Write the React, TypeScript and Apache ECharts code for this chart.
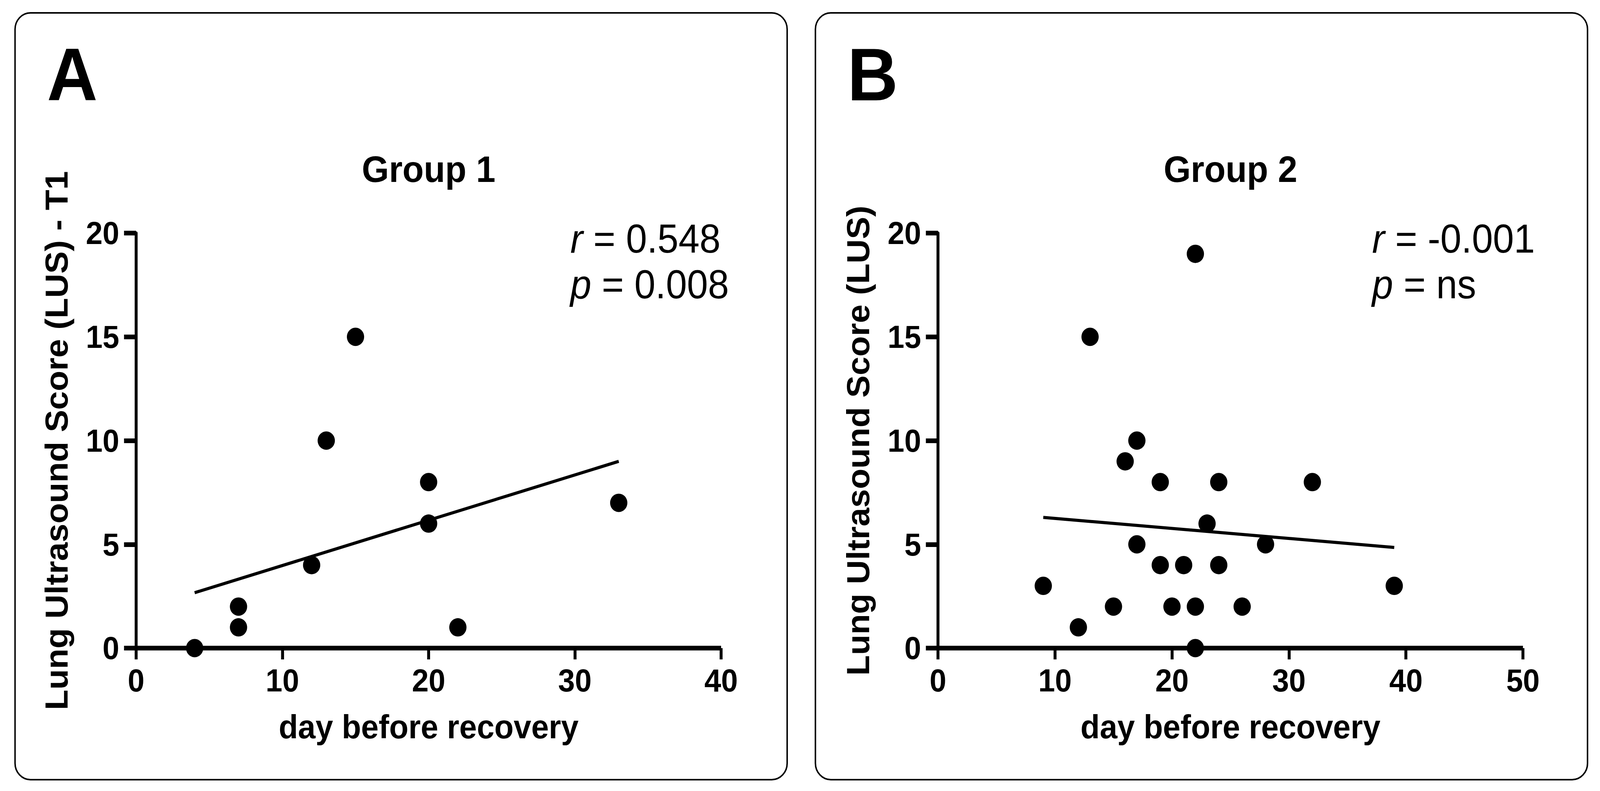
import React, { useEffect, useRef, useState } from "react";
import * as echarts from "echarts";

// ---- data ----
const groupA_days = [4, 7, 7, 12, 13, 15, 20, 20, 22, 33];
const groupA_lus = [0, 2, 1, 4, 10, 15, 8, 6, 1, 7];
const groupB_days = [9, 12, 13, 15, 16, 17, 17, 19, 19, 20, 21, 22, 22, 22, 23, 24, 24, 26, 28, 32, 39];
const groupB_lus = [3, 1, 15, 2, 9, 10, 5, 8, 4, 2, 4, 19, 2, 0, 6, 8, 4, 2, 5, 8, 3];
const fitA_x = [4, 33];
const fitA_y = [2.67, 9.0];
const fitB_x = [9, 39];
const fitB_y = [6.3, 4.85];
const yMin = 0;
const yMax = 20;
const yStep = 5;
const xMin = 0;
const xMaxA = 40;
const xMaxB = 50;
const xStep = 10;
const panelLetters = ["A", "B"];
const panelTitles = ["Group 1", "Group 2"];
const yNames = ["Lung Ultrasound Score (LUS) - T1", "Lung Ultrasound Score (LUS)"];
const xName = "day before recovery";
const statsA = ["{i|r} = 0.548", "{i|p} = 0.008"];
const statsB = ["{i|r} = -0.001", "{i|p} = ns"];

const FONT = "'Liberation Sans', Arial, Helvetica, sans-serif";
const W = 4360;
const H = 2026;

function zip(xs: number[], ys: number[]) {
  return xs.map((x, i) => [x, ys[i]]);
}

export default function App() {
  const ref = useRef<HTMLDivElement>(null);
  const [scale] = useState(() => {
    const iw = typeof window !== "undefined" ? window.innerWidth || W : W;
    const ih = typeof window !== "undefined" ? window.innerHeight || H : H;
    return { sx: iw / W, sy: ih / H };
  });

  useEffect(() => {
    document.body.style.margin = "0";
    document.body.style.overflow = "hidden";
    if (!ref.current) return;
    const chart = echarts.init(ref.current, undefined, { renderer: "svg", width: W, height: H });
    const gridTop = 597;
    const gridH = 1063;
    const gridW = 1594;
    const leftA = 371;
    const leftB = 2556;

    const xAxisBase = (max: number, gi: number) => ({
      type: "value",
      gridIndex: gi,
      min: xMin,
      max,
      interval: xStep,
      name: xName,
      nameLocation: "middle",
      nameGap: 158,
      nameTextStyle: { fontSize: 86, fontWeight: "bold", color: "#000", fontFamily: FONT },
      axisLine: { show: true, onZero: false, lineStyle: { color: "#000", width: 12, cap: "butt" } },
      axisTick: { show: true, length: 29, lineStyle: { color: "#000", width: 8 } },
      axisLabel: { fontSize: 82, fontWeight: "bold", color: "#000", fontFamily: FONT, margin: 42 },
      splitLine: { show: false },
    });
    const yAxisBase = (gi: number) => ({
      type: "value",
      gridIndex: gi,
      min: yMin,
      max: yMax,
      interval: yStep,
      name: yNames[gi],
      nameLocation: "middle",
      nameGap: 174,
      nameTextStyle: { fontSize: 86, fontWeight: "bold", color: "#000", fontFamily: FONT },
      axisLine: { show: true, onZero: false, lineStyle: { color: "#000", width: 8 } },
      axisTick: { show: true, length: 33, lineStyle: { color: "#000", width: 12 } },
      axisLabel: { fontSize: 82, fontWeight: "bold", color: "#000", fontFamily: FONT, margin: 46 },
      splitLine: { show: false },
    });

    const statTitle = (lines: string[], left: number) => ({
      text: lines.join("\n"),
      left,
      top: 553,
      padding: 0,
      textStyle: {
        fontSize: 103,
        fontWeight: "normal",
        color: "#000",
        fontFamily: FONT,
        lineHeight: 117,
        rich: {
          i: { fontStyle: "italic", fontSize: 103, fontFamily: FONT, color: "#000", lineHeight: 117 },
        },
      },
    });

    const panelRect = (x: number) => ({
      type: "rect",
      shape: { x, y: 33, width: 2104, height: 1964, r: 42 },
      style: { fill: "none", stroke: "#000", lineWidth: 4 },
      silent: true,
    });
    const textEl = (text: string, x: number, y: number, size: number, align: string) => ({
      type: "text",
      x,
      y,
      style: {
        text,
        fill: "#000",
        fontSize: size,
        fontWeight: "bold",
        fontFamily: FONT,
        align,
        verticalAlign: "middle",
      },
      silent: true,
    });

    const scatterStyle = { color: "#000", opacity: 1 };
    const fitStyle = { color: "#000", width: 8 };

    chart.setOption({
      animation: false,
      backgroundColor: "#fff",
      title: [statTitle(statsA, leftA + 1183), statTitle(statsB, leftB + 1183)],
      grid: [
        { left: leftA, top: gridTop, width: gridW, height: gridH, containLabel: false, outerBoundsMode: "none" },
        { left: leftB, top: gridTop, width: gridW, height: gridH, containLabel: false, outerBoundsMode: "none" },
      ],
      xAxis: [xAxisBase(xMaxA, 0), xAxisBase(xMaxB, 1)],
      yAxis: [yAxisBase(0), yAxisBase(1)],
      graphic: [
        panelRect(41),
        panelRect(2222),
        textEl(panelLetters[0], 128, 191, 191, "left"),
        textEl(panelLetters[1], 2309, 191, 191, "left"),
        textEl(panelTitles[0], leftA + gridW / 2, 434, 95, "center"),
        textEl(panelTitles[1], leftB + gridW / 2, 434, 95, "center"),
      ],
      series: [
        {
          type: "line",
          xAxisIndex: 0,
          yAxisIndex: 0,
          data: zip(fitA_x, fitA_y),
          showSymbol: false,
          symbol: "none",
          lineStyle: fitStyle,
          z: 3,
        },
        {
          type: "scatter",
          xAxisIndex: 0,
          yAxisIndex: 0,
          data: zip(groupA_days, groupA_lus),
          symbol: "circle",
          symbolSize: 47,
          itemStyle: scatterStyle,
          clip: false,
          z: 4,
        },
        {
          type: "line",
          xAxisIndex: 1,
          yAxisIndex: 1,
          data: zip(fitB_x, fitB_y),
          showSymbol: false,
          symbol: "none",
          lineStyle: fitStyle,
          z: 3,
        },
        {
          type: "scatter",
          xAxisIndex: 1,
          yAxisIndex: 1,
          data: zip(groupB_days, groupB_lus),
          symbol: "circle",
          symbolSize: 47,
          itemStyle: scatterStyle,
          clip: false,
          z: 4,
        },
      ],
    });
    return () => chart.dispose();
  }, []);

  return (
    <div
      ref={ref}
      style={{
        position: "fixed",
        left: 0,
        top: 0,
        width: W,
        height: H,
        background: "#fff",
        transform: `scale(${scale.sx}, ${scale.sy})`,
        transformOrigin: "0 0",
      }}
    />
  );
}
